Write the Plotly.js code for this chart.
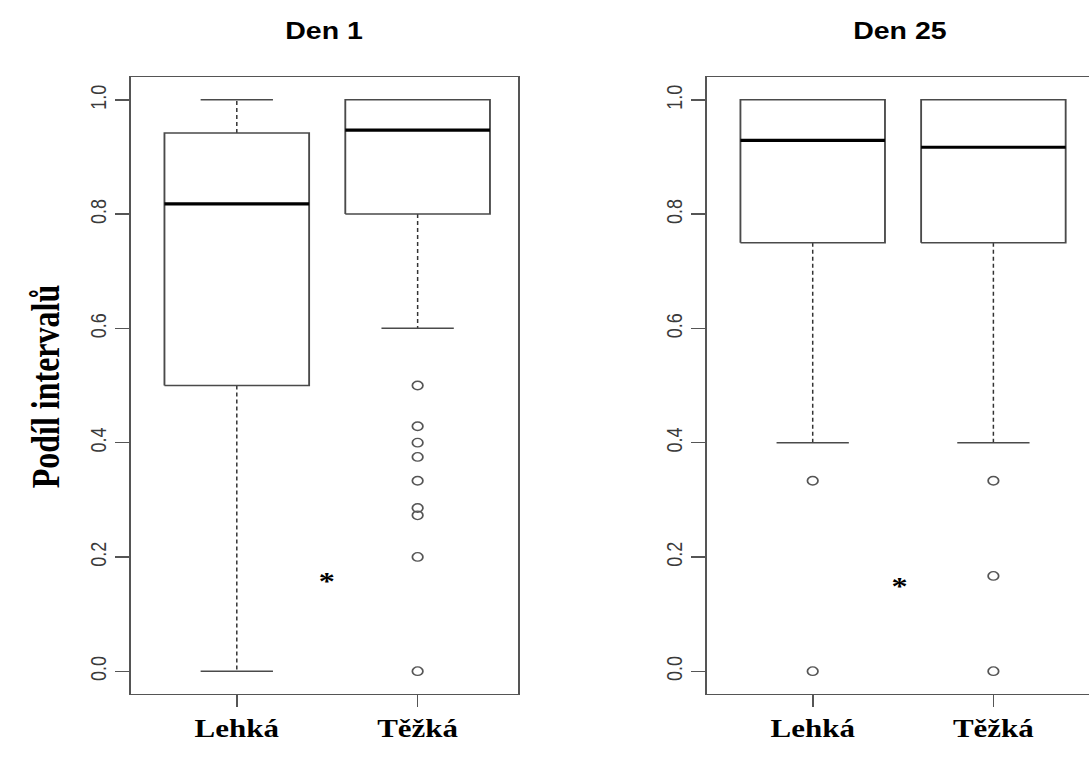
<!DOCTYPE html>
<html>
<head>
<meta charset="utf-8">
<script src="https://cdn.plot.ly/plotly-3.0.1.min.js"></script>
<style>
  html, body { margin: 0; padding: 0; overflow: hidden; background: #fff; width: 1089px; height: 758px; }
  /* the figure is drawn at 882 px and widened horizontally to fill the page */
  #chart { width: 882px; height: 758px; transform: scaleX(1.24); transform-origin: 0 0; }
</style>
</head>
<body>
<div id="chart"></div>
<script>
// ---- data ----
const groups = ['Lehká', 'Těžká'];
const panelTitles = ['Den 1', 'Den 25'];
const yTicks = [0, 0.2, 0.4, 0.6, 0.8, 1.0];

// Den 1: five-number summaries per group
const day1Lower  = [0.0, 0.6];
const day1Q1     = [0.5, 0.8];
const day1Median = [0.818, 0.947];
const day1Q3     = [0.942, 1.0];
const day1Upper  = [1.0, 1.0];
const day1OutliersLehka = [];
const day1OutliersTezka = [0.5, 0.4286, 0.4, 0.375, 0.3333, 0.2857, 0.2727, 0.2, 0.0];

// Den 25
const day25Lower  = [0.4, 0.4];
const day25Q1     = [0.75, 0.75];
const day25Median = [0.929, 0.917];
const day25Q3     = [1.0, 1.0];
const day25Upper  = [1.0, 1.0];
const day25OutliersLehka = [0.3333, 0.0];
const day25OutliersTezka = [0.3333, 0.1667, 0.0];

const panels = [
  { lower: day1Lower, q1: day1Q1, median: day1Median, q3: day1Q3, upper: day1Upper,
    outliers: [day1OutliersLehka, day1OutliersTezka] },
  { lower: day25Lower, q1: day25Q1, median: day25Median, q3: day25Q3, upper: day25Upper,
    outliers: [day25OutliersLehka, day25OutliersTezka] }
];

// ---- styling ----
const BOX_HALF = 0.4;     // half box width in category units
const CAP_HALF = 0.2;     // half staple width
const EDGE = '#4a4a4a';
const serif = 'Liberation Serif, Times New Roman, serif';
const sans = 'Liberation Sans, Arial, sans-serif';

const traces = [];
panels.forEach((p, pi) => {
  const xa = pi === 0 ? 'x' : 'x2';
  const ya = pi === 0 ? 'y' : 'y2';
  groups.forEach((g, gi) => {
    const c = gi + 1;
    const base = { xaxis: xa, yaxis: ya, mode: 'lines', showlegend: false, hoverinfo: 'skip' };
    // whiskers (dashed)
    traces.push(Object.assign({}, base, {
      x: [c, c], y: [p.q3[gi], p.upper[gi]],
      line: { color: '#333', width: 1.2, dash: '4px,3px' }
    }));
    traces.push(Object.assign({}, base, {
      x: [c, c], y: [p.q1[gi], p.lower[gi]],
      line: { color: '#333', width: 1.2, dash: '4px,3px' }
    }));
    // staples
    traces.push(Object.assign({}, base, {
      x: [c - CAP_HALF, c + CAP_HALF], y: [p.upper[gi], p.upper[gi]],
      line: { color: EDGE, width: 1.5 }
    }));
    traces.push(Object.assign({}, base, {
      x: [c - CAP_HALF, c + CAP_HALF], y: [p.lower[gi], p.lower[gi]],
      line: { color: EDGE, width: 1.5 }
    }));
    // box
    traces.push(Object.assign({}, base, {
      x: [c - BOX_HALF, c + BOX_HALF, c + BOX_HALF, c - BOX_HALF, c - BOX_HALF],
      y: [p.q1[gi], p.q1[gi], p.q3[gi], p.q3[gi], p.q1[gi]],
      fill: 'toself', fillcolor: '#fff',
      line: { color: EDGE, width: 1.5 }
    }));
    // median
    traces.push(Object.assign({}, base, {
      x: [c - BOX_HALF, c + BOX_HALF], y: [p.median[gi], p.median[gi]],
      line: { color: '#000', width: 3.2 }
    }));
    // outliers
    const out = p.outliers[gi];
    if (out.length) {
      traces.push({
        xaxis: xa, yaxis: ya, type: 'scatter', mode: 'markers', showlegend: false, hoverinfo: 'skip',
        x: out.map(() => c), y: out,
        marker: { symbol: 'circle-open', size: 8.5, color: '#555', line: { width: 1.4, color: '#555' } }
      });
    }
  });
});

// ---- layout ----
const W = 882, H = 758, S = 1.24;
const px = v => v / S / W;                 // horizontal page pixel -> paper fraction
const yDomain = [1 - 694 / H, 1 - 77 / H];

function xAxis(domain, anchor) {
  return {
    domain: domain, anchor: anchor, range: [0.415, 2.555],
    tickvals: [1, 2], ticktext: groups,
    ticks: 'outside', ticklen: 11.5, tickwidth: 1.3, tickcolor: '#555',
    showline: true, mirror: true, linecolor: '#555', linewidth: 1.4,
    showgrid: false, zeroline: false, fixedrange: true,
    tickfont: { family: serif, size: 25, color: '#000', weight: 'bold' }
  };
}
function yAxis(anchor) {
  return {
    domain: yDomain, anchor: anchor, range: [-0.04, 1.04],
    tickvals: yTicks, tickformat: '.1f', tickangle: -90,
    ticks: 'outside', ticklen: 11.5, tickwidth: 1.3, tickcolor: '#555',
    showline: true, mirror: true, linecolor: '#555', linewidth: 1.4,
    showgrid: false, zeroline: false, fixedrange: true,
    tickfont: { family: sans, size: 18, color: '#3a3a3a' }
  };
}

const layout = {
  width: W, height: H,
  margin: { l: 0, r: 0, t: 0, b: 0 },
  paper_bgcolor: '#fff', plot_bgcolor: '#fff',
  xaxis: xAxis([px(131), px(518)], 'y'),
  yaxis: yAxis('x'),
  xaxis2: xAxis([px(707), 1], 'y2'),
  yaxis2: yAxis('x2'),
  annotations: [
    { text: '<b>' + panelTitles[0] + '</b>', xref: 'x domain', yref: 'paper', x: 0.5, y: 1 - 31 / H,
      xanchor: 'center', yanchor: 'middle', showarrow: false, font: { family: sans, size: 23, color: '#000' } },
    { text: '<b>' + panelTitles[1] + '</b>', xref: 'x2 domain', yref: 'paper', x: 0.5, y: 1 - 31 / H,
      xanchor: 'center', yanchor: 'middle', showarrow: false, font: { family: sans, size: 23, color: '#000' } },
    { text: '<b>Podíl intervalů</b>', xref: 'paper', yref: 'paper', x: px(45), y: 1 - 386 / H,
      xanchor: 'center', yanchor: 'middle', textangle: -90, showarrow: false,
      font: { family: serif, size: 32, color: '#000' } },
    { text: '<b>*</b>', xref: 'x', yref: 'y', x: 1.5, y: 0.165, yshift: -5, showarrow: false,
      xanchor: 'center', yanchor: 'middle', font: { family: serif, size: 26, color: '#000' } },
    { text: '<b>*</b>', xref: 'x2', yref: 'y2', x: 1.48, y: 0.157, yshift: -5, showarrow: false,
      xanchor: 'center', yanchor: 'middle', font: { family: serif, size: 26, color: '#000' } }
  ]
};

Plotly.newPlot('chart', traces, layout, { displayModeBar: false, staticPlot: true });
</script>
</body>
</html>
